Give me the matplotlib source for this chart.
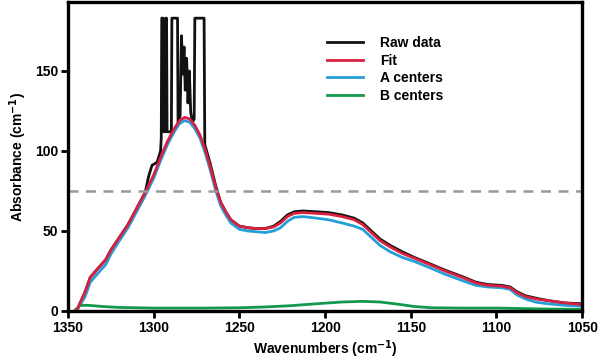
import matplotlib
matplotlib.use("Agg")
import matplotlib.pyplot as plt
from matplotlib.lines import Line2D

plt.rcParams['font.family'] = ['Liberation Sans', 'DejaVu Sans']
plt.rcParams['font.weight'] = 'bold'

# Raw spectrum (clipped at detector saturation near the main peak)
raw_wn = [1345, 1340, 1337, 1333, 1328, 1325, 1320, 1315, 1310, 1305, 1303, 1301,
          1298, 1296, 1295.6, 1295.3, 1294.5, 1294.1, 1293.3, 1293.0, 1292.5, 1292.2,
          1289.7, 1289.4, 1286.1, 1285.8, 1284.6, 1283.8, 1283.0, 1282.3, 1281.6,
          1280.8, 1280.0, 1279.2, 1278.4, 1277.4, 1276.4, 1276.0, 1270.6, 1270.2,
          1267, 1264, 1261, 1258, 1255, 1250, 1245,
          1240, 1235, 1230, 1226, 1222, 1218, 1213, 1205, 1198, 1190, 1183, 1178,
          1173, 1168, 1162, 1155, 1148, 1140, 1130, 1120, 1112, 1105, 1097, 1092,
          1088, 1083, 1077, 1070, 1060, 1050]
raw_val = [0, 12, 21, 26, 32, 38, 46, 54, 64, 74, 84, 91,
           93, 100, 108, 183, 183, 112, 112, 183, 183, 112,
           112, 183, 183, 118, 122, 172, 148, 165, 138,
           158, 130, 150, 124, 118, 120, 183, 183, 104,
           92, 79, 68, 62, 57, 53, 52,
           51.5, 51.5, 53, 56, 60, 62, 62.5, 62, 61.5, 60, 58, 55,
           50, 45, 41, 37, 33.5, 30, 25.5, 21.5, 18, 16.5, 16, 15,
           12, 9.5, 8, 6.5, 5, 4.5]

fit_wn = [1345, 1340, 1337, 1333, 1328, 1325, 1320, 1315, 1310, 1305, 1300, 1296,
          1292, 1288, 1285, 1282, 1279, 1276, 1273, 1270, 1267, 1264, 1261, 1258,
          1255, 1250, 1245, 1240, 1235, 1230, 1226, 1222, 1218, 1213, 1205, 1198,
          1190, 1183, 1178, 1173, 1168, 1162, 1155, 1148, 1140, 1130, 1120, 1112,
          1105, 1097, 1092, 1088, 1083, 1077, 1070, 1060, 1050]
fit_val = [0, 12, 21, 26, 32, 38, 46, 54, 64, 74, 85, 96,
           106, 114, 119, 121, 120, 116, 110, 101, 90, 78, 68, 62,
           57, 53, 52, 51.5, 51.5, 52.5, 55, 59, 61, 61.5, 61, 60.5,
           59, 57, 54, 49, 44, 40, 36, 33, 29.5, 25, 21, 17.5,
           16, 15.5, 14.5, 11.5, 9, 7.5, 6.5, 5, 4]
a_val = [0, 9, 18, 23, 29, 35.5, 44, 52, 62, 72, 83, 94,
         104, 112, 117, 119, 118, 114, 108, 99, 88, 76, 66, 60,
         55, 51, 50, 49.5, 49, 50, 52, 56, 58.5, 59, 58, 57,
         55, 53, 51, 46, 41, 37, 33.5, 31, 27.5, 23, 19, 16,
         15, 14.5, 13.5, 10, 7.5, 5.5, 4.5, 3.5, 3]

b_wn = [1346, 1343, 1338, 1330, 1320, 1300, 1270, 1250, 1235, 1220, 1205, 1190,
        1178, 1168, 1158, 1148, 1138, 1120, 1100, 1085, 1070, 1050]
b_val = [0.5, 3.5, 3.5, 2.8, 2.2, 1.8, 1.8, 2, 2.5, 3.3, 4.5, 5.6,
         6, 5.6, 4.3, 2.8, 2, 1.8, 1.8, 1.5, 1.2, 1]

threshold = 75

c_raw = "#111111"
c_fit = "#d8203f"
c_a = "#259fd8"
c_b = "#12994c"

fig = plt.figure(figsize=(6.02, 3.62), dpi=100)
ax = fig.add_axes([0.113, 0.141, 0.854, 0.853])

lw = 2.0
ax.plot(raw_wn, raw_val, color=c_raw, lw=lw)
ax.plot(fit_wn, a_val, color=c_a, lw=lw)
ax.plot(b_wn, b_val, color=c_b, lw=lw)
ax.plot(fit_wn, fit_val, color=c_fit, lw=lw)
ax.axhline(threshold, color="#999999", lw=1.8, ls=(0, (4, 3)))

ax.set_xlim(1350, 1050)
ax.set_ylim(0, 193)
ax.set_xticks([1350, 1300, 1250, 1200, 1150, 1100, 1050])
ax.set_yticks([0, 50, 100, 150])

for s in ax.spines.values():
    s.set_linewidth(2.4)
ax.tick_params(width=2, length=5, labelsize=10, pad=2)
for lab in ax.get_xticklabels() + ax.get_yticklabels():
    lab.set_fontweight('bold')

ax.set_xlabel("Wavenumbers (cm$^{\\mathbf{-1}}$)", fontsize=10, fontweight='bold', labelpad=3)
ax.set_ylabel("Absorbance (cm$^{\\mathbf{-1}}$)", fontsize=10, fontweight='bold', labelpad=4)

handles = [Line2D([], [], color=c_raw, lw=lw),
           Line2D([], [], color=c_fit, lw=lw),
           Line2D([], [], color=c_a, lw=lw),
           Line2D([], [], color=c_b, lw=lw)]
ax.legend(handles, ["Raw data", "Fit", "A centers", "B centers"],
          loc="upper left", bbox_to_anchor=(0.48, 0.93), frameon=False,
          handlelength=2.6, labelspacing=0.25, handletextpad=1.2,
          prop={'weight': 'bold', 'size': 10})

fig.savefig("out.png", dpi=100)
